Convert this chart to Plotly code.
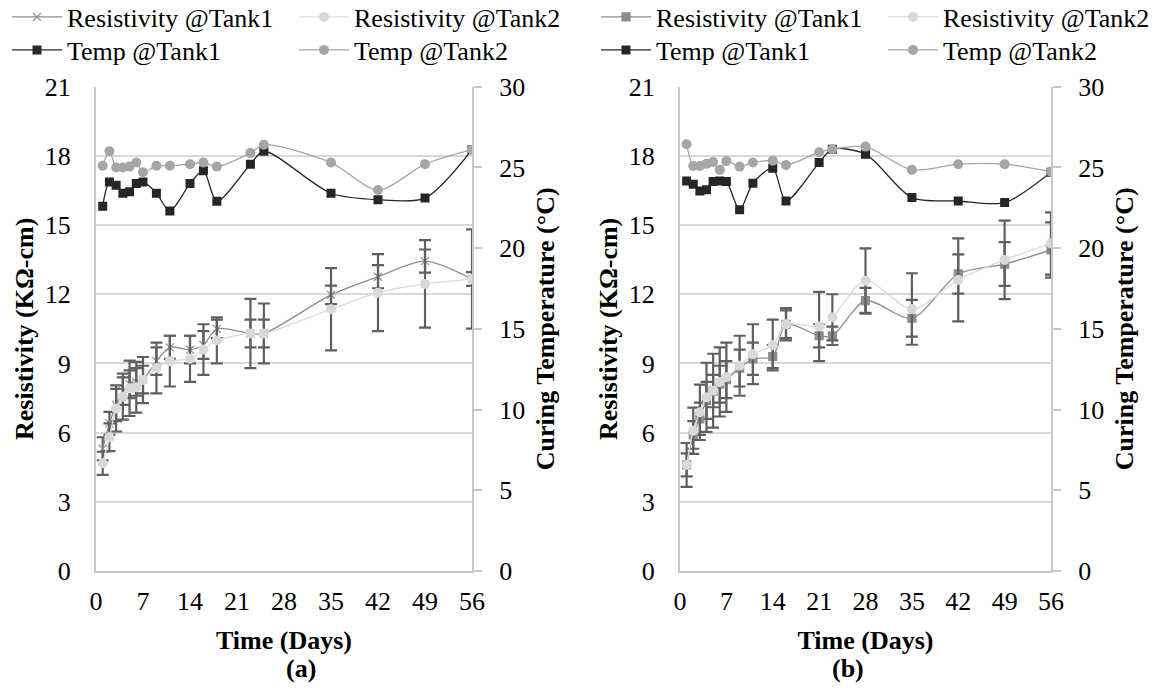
import plotly.graph_objects as go

# ---------------- data ----------------
L_days = [1, 2, 3, 4, 5, 6, 7, 9, 11, 14, 16, 18, 23, 25, 35, 42, 49, 56]
L_res1 = [5.3, 6.4, 7.2, 7.8, 8.1, 8.2, 8.3, 9.1, 9.7, 9.6, 9.8, 10.5, 10.3, 10.3, 11.97, 12.76, 13.44, 12.66]
L_res2 = [4.67, 5.8, 7.05, 7.56, 7.92, 7.97, 8.28, 8.8, 9.1, 9.2, 9.6, 10.0, 10.3, 10.3, 11.35, 12.07, 12.45, 12.66]
L_err1 = [0.5, 0.5, 0.7, 0.6, 0.6, 0.6, 0.6, 0.6, 0.5, 0.6, 0.6, 0.4, 0.6, 0.6, 0.4, 0.5, 0.5, 0.3]
L_err2 = [0.5, 0.6, 1.0, 1.0, 1.2, 1.1, 1.0, 1.1, 1.1, 1.0, 1.1, 1.0, 1.5, 1.3, 1.78, 1.67, 1.9, 2.15]
L_temp1 = [22.6, 24.1, 23.9, 23.4, 23.5, 24.0, 24.1, 23.4, 22.3, 24.0, 24.8, 22.9, 25.2, 26.0, 23.4, 23.0, 23.1, 26.1]
L_temp2 = [25.1, 26.0, 25.0, 25.0, 25.05, 25.3, 24.7, 25.1, 25.1, 25.2, 25.3, 25.05, 25.9, 26.4, 25.3, 23.6, 25.2, 26.1]

R_days = [1, 2, 3, 4, 5, 6, 7, 9, 11, 14, 16, 21, 23, 28, 35, 42, 49, 56]
R_res1 = [4.6, 5.9, 6.6, 7.4, 7.8, 8.1, 8.3, 8.8, 9.2, 9.3, 10.7, 10.2, 10.2, 11.72, 10.96, 12.88, 13.31, 13.92]
R_res2 = [4.6, 6.08, 6.88, 7.53, 7.82, 8.2, 8.4, 8.9, 9.4, 9.8, 10.7, 10.6, 11.0, 12.59, 11.36, 12.62, 13.49, 14.2]
R_err1 = [0.5, 0.6, 0.7, 0.8, 0.7, 0.8, 0.8, 0.8, 0.7, 0.5, 0.6, 0.5, 0.4, 0.56, 0.8, 0.85, 0.95, 1.2]
R_err2 = [0.95, 1.0, 1.2, 1.5, 1.6, 1.5, 1.5, 1.3, 1.3, 1.1, 0.7, 1.5, 1.0, 1.4, 1.55, 1.8, 1.7, 1.35]
R_temp1 = [24.16, 23.96, 23.54, 23.61, 24.12, 24.16, 24.12, 22.37, 24.02, 24.95, 22.92, 25.3, 26.13, 25.82, 23.13, 22.92, 22.82, 24.7]
R_temp2 = [26.44, 25.09, 25.09, 25.22, 25.34, 24.85, 25.4, 25.05, 25.3, 25.42, 25.15, 25.94, 26.13, 26.29, 24.85, 25.2, 25.2, 24.74]

x_ticks = [0, 7, 14, 21, 28, 35, 42, 49, 56]
res_ticks = [0, 3, 6, 9, 12, 15, 18, 21]
temp_ticks = [0, 5, 10, 15, 20, 25, 30]

NAMES = ["Resistivity @Tank1", "Resistivity @Tank2", "Temp @Tank1", "Temp @Tank2"]
PANEL_LABELS = ["(a)", "(b)"]

# ---------------- style ----------------
FONT = "Liberation Serif, Times New Roman, serif"
FS = 26
C_RES1 = "#8c8c8c"
C_RES2 = "#d9d9d9"
C_T1 = "#262626"
C_T2 = "#a6a6a6"
C_ERR = "#5f5f5f"
C_AX = "#c8c8c8"

fig = go.Figure()


def add_panel(xa, ya, ya2, days, r1, r2, e1, e2, t1, t2, res1_symbol, leg_a, leg_b):
    err = lambda a: dict(type="data", array=a, symmetric=True, color=C_ERR, thickness=2.2, width=6)
    fig.add_trace(go.Scatter(x=days, y=r1, name=NAMES[0], mode="lines+markers", xaxis=xa, yaxis=ya,
                             line=dict(color=C_RES1, width=1.3, shape="spline", smoothing=0.8),
                             marker=dict(symbol=res1_symbol, size=8, color=C_RES1,
                                         line=dict(color=C_RES1, width=1.2)),
                             error_y=err(e1), legend=leg_a))
    fig.add_trace(go.Scatter(x=days, y=r2, name=NAMES[1], mode="lines+markers", xaxis=xa, yaxis=ya,
                             line=dict(color=C_RES2, width=1.3, shape="spline", smoothing=0.8),
                             marker=dict(symbol="circle", size=10, color=C_RES2),
                             error_y=err(e2), legend=leg_a))
    fig.add_trace(go.Scatter(x=days, y=t1, name=NAMES[2], mode="lines+markers", xaxis=xa, yaxis=ya2,
                             line=dict(color=C_T1, width=1.3, shape="spline", smoothing=0.8),
                             marker=dict(symbol="square", size=9, color=C_T1),
                             legend=leg_b))
    fig.add_trace(go.Scatter(x=days, y=t2, name=NAMES[3], mode="lines+markers", xaxis=xa, yaxis=ya2,
                             line=dict(color=C_T2, width=1.3, shape="spline", smoothing=0.8),
                             marker=dict(symbol="circle", size=10, color=C_T2),
                             legend=leg_b))


add_panel("x", "y", "y2", L_days, L_res1, L_res2, L_err1, L_err2, L_temp1, L_temp2, "x-thin", "legend", "legend2")
add_panel("x2", "y3", "y4", R_days, R_res1, R_res2, R_err1, R_err2, R_temp1, R_temp2, "square", "legend3", "legend4")

W, H = 1160, 693
dom_y = [1 - 571 / H, 1 - 86.7 / H]
dom_l = [96 / W, 472 / W]
dom_r = [680 / W, 1051 / W]

tickfont = dict(family=FONT, size=FS, color="#000")
titlefont = dict(family=FONT, size=FS, color="#000")


def xaxis(dom, anchor):
    return dict(domain=dom, anchor=anchor, range=[0, 56], tickvals=x_ticks, ticktext=[str(v) for v in x_ticks],
                showgrid=False, zeroline=False, showline=True, linecolor=C_AX, linewidth=2,
                ticks="outside", ticklen=6, tickcolor="rgba(0,0,0,0)", tickfont=tickfont,
                title=dict(text="<b>Time (Days)</b>", font=titlefont, standoff=16), automargin=False)


def yres(dom, anchor):
    return dict(domain=dom, anchor=anchor, range=[0, 21], tickvals=res_ticks, ticktext=[str(v) for v in res_ticks],
                showgrid=True, gridcolor="#d9d9d9", gridwidth=2, zeroline=False, showline=True,
                linecolor=C_AX, linewidth=2, ticks="outside", ticklen=18, tickcolor="rgba(0,0,0,0)",
                tickfont=tickfont, title=dict(text="<b>Resistivity (KΩ-cm)</b>", font=titlefont, standoff=4),
                automargin=False)


def ytemp(anchor, overlay):
    return dict(anchor=anchor, overlaying=overlay, side="right", range=[0, 30], tickvals=temp_ticks,
                ticktext=[str(v) for v in temp_ticks], showgrid=False, zeroline=False, showline=True,
                linecolor=C_AX, linewidth=2, ticks="outside", ticklen=8, tickcolor=C_AX, tickwidth=2,
                tickfont=tickfont, ticklabelstandoff=12,
                title=dict(text="<b>Curing Temperature (°C)</b>", font=titlefont, standoff=12),
                automargin=False)


leg = lambda x, y: dict(orientation="h", x=x, y=y, xanchor="left", yanchor="middle",
                        font=dict(family=FONT, size=FS, color="#000"), bgcolor="rgba(0,0,0,0)",
                        entrywidth=222, entrywidthmode="pixels", itemwidth=50, tracegroupgap=0)

fig.update_layout(
    width=W, height=H, margin=dict(l=0, r=0, t=0, b=0, autoexpand=False),
    paper_bgcolor="white", plot_bgcolor="white", font=dict(family=FONT, size=FS, color="#000"),
    xaxis=xaxis(dom_l, "y"), yaxis=yres(dom_y, "x"), yaxis2=ytemp("x", "y"),
    xaxis2=xaxis(dom_r, "y3"), yaxis3=yres(dom_y, "x2"), yaxis4=ytemp("x2", "y3"),
    legend=leg(7 / W, 1 - 17 / H), legend2=leg(7 / W, 1 - 50 / H),
    legend3=leg(596 / W, 1 - 17 / H), legend4=leg(596 / W, 1 - 50 / H),
    annotations=[
        dict(text="<b>%s</b>" % PANEL_LABELS[0], x=(dom_l[0] + dom_l[1]) / 2, y=1 - 652 / H, xref="paper",
             yref="paper", yanchor="top", showarrow=False, font=titlefont),
        dict(text="<b>%s</b>" % PANEL_LABELS[1], x=(dom_r[0] + dom_r[1]) / 2, y=1 - 652 / H, xref="paper",
             yref="paper", yanchor="top", showarrow=False, font=titlefont),
    ],
)

fig.write_html("out.html")
